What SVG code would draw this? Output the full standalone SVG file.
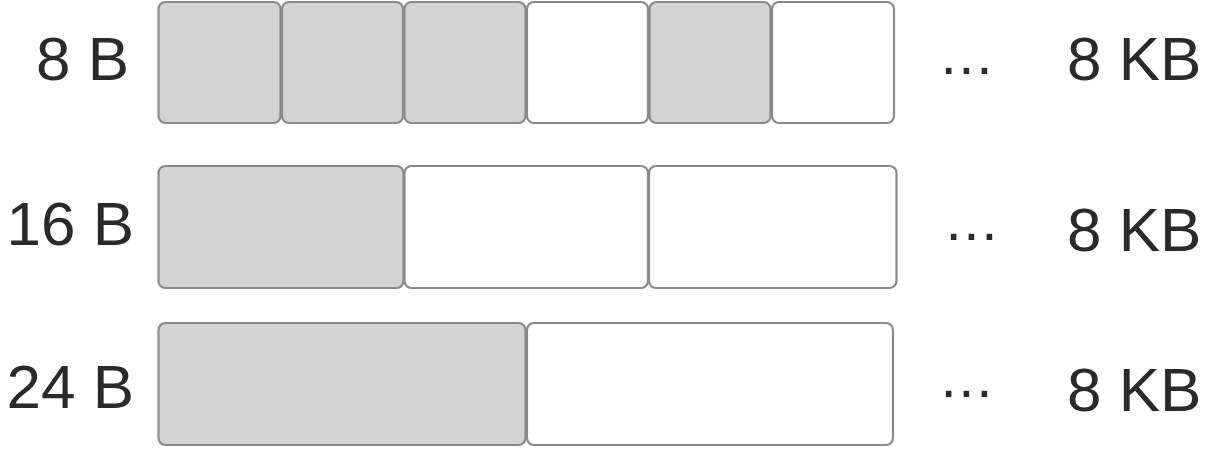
<svg xmlns="http://www.w3.org/2000/svg" width="1216" height="460" viewBox="0 0 1216 460">
<style>
.b{stroke:#8a8a8a;stroke-width:2.2}
.f{fill:#d3d3d3}
.e{fill:#ffffff}
.t{font-family:"Liberation Sans",Arial,sans-serif;font-size:62px;fill:#2a2a2a}
.d{font-family:"Liberation Sans",Arial,sans-serif;font-size:58px;fill:#2a2a2a;letter-spacing:-1.5px}
</style>
<rect width="1216" height="460" fill="#ffffff"/>
<g id="row8">
<text class="t" x="129" y="80" text-anchor="end">8 B</text>
<rect class="b f" x="158.5" y="2" width="122" height="121" rx="7"/>
<rect class="b f" x="282" y="2" width="121" height="121" rx="7"/>
<rect class="b f" x="404.5" y="2" width="121" height="121" rx="7"/>
<rect class="b e" x="527" y="2" width="121" height="121" rx="7"/>
<rect class="b f" x="649.5" y="2" width="121" height="121" rx="7"/>
<rect class="b e" x="772" y="2" width="122" height="121" rx="7"/>
<text class="d" x="939" y="87">···</text>
<text class="t" x="1067" y="80">8 KB</text>
</g>
<g id="row16">
<text class="t" x="134" y="245" text-anchor="end">16 B</text>
<rect class="b f" x="158.5" y="166" width="245" height="122" rx="7"/>
<rect class="b e" x="404.5" y="166" width="243.5" height="122" rx="7"/>
<rect class="b e" x="649" y="166" width="247.5" height="122" rx="7"/>
<text class="d" x="944" y="253">···</text>
<text class="t" x="1067" y="251">8 KB</text>
</g>
<g id="row24">
<text class="t" x="134" y="408" text-anchor="end">24 B</text>
<rect class="b f" x="158.5" y="323" width="367" height="122" rx="7"/>
<rect class="b e" x="527" y="323" width="366" height="122" rx="7"/>
<text class="d" x="939" y="410">···</text>
<text class="t" x="1067" y="411">8 KB</text>
</g>
</svg>
